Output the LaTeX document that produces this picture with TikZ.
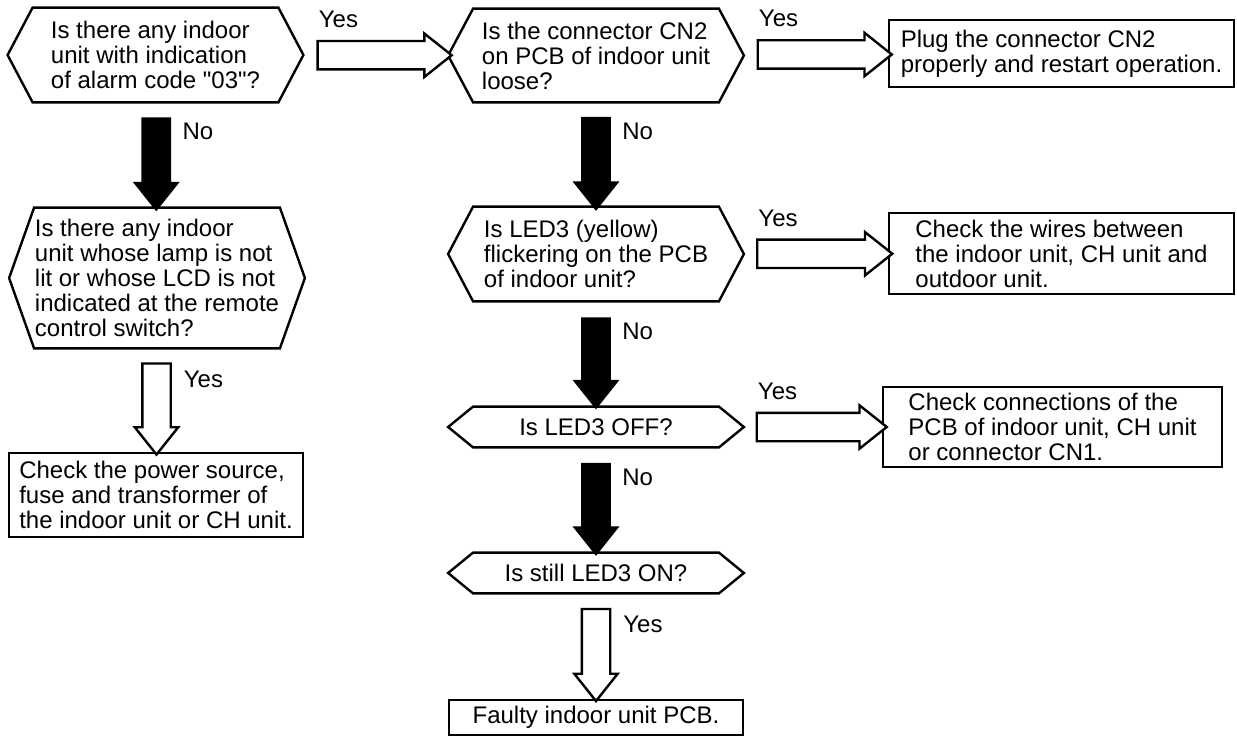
\documentclass[tikz,border=0pt]{standalone}
\usepackage{fontspec}
\setmainfont{Liberation Sans}[Ligatures=TeXOff]
\usetikzlibrary{shapes.arrows, positioning}

\begin{document}
\begin{tikzpicture}[
  x=0.5pt, y=-0.5pt,
  font=\fontsize{12}{12.5}\selectfont,
  question/.style={
    rectangle,
    minimum width=122.5pt,
    align=left,
    inner sep=0pt
  },
  answer/.style={
    draw,
    line width=1.2pt,
    align=left,
    inner sep=0pt
  },
  noarrow/.style={
    single arrow, fill=black, draw=none,
    inner sep=7.25pt,
    single arrow head extend=4.25pt,
    single arrow tip angle=77,
    shape border rotate=270
  },
  yesarrow/.style={
    single arrow, fill=white, draw=black, line width=1.2pt,
    inner sep=6.5pt,
    single arrow head extend=3.75pt,
    single arrow tip angle=77
  },
  tag/.style={inner sep=0pt}
]
\useasboundingbox (0,0) rectangle (1237,738);

% questions
\node[question, minimum height=47pt] (q1) at (155.5,55)
  {Is there any indoor\\unit with indication\\of alarm code "03"?};
\node[question, minimum height=46.5pt] (q2) at (596,55.5)
  {Is the connector CN2\\on PCB of indoor unit\\loose?};
\node[question, minimum height=47pt] (q3) at (596,254)
  {Is LED3 (yellow)\\flickering on the PCB\\of indoor unit?};
\node[question, minimum height=70pt] (q4) at (157,278)
  {Is there any indoor\\unit whose lamp is not\\lit or whose LCD is not\\indicated at the remote\\control switch?};
\node[question, minimum height=20pt] (q5) at (596,427) {Is LED3 OFF?};
\node[question, minimum height=20pt] (q6) at (596,573) {Is still LED3 ON?};

\foreach \q in {q1,q2,q3,q4,q5,q6}
  \draw[line width=1.2pt] (\q.north west) -- (\q.north east) -- ([xshift=12.5pt]\q.east)
    -- (\q.south east) -- (\q.south west) -- ([xshift=-12.5pt]\q.west) -- cycle;

% actions
\node[answer, minimum width=172.5pt, minimum height=33.5pt] (r1) at (1061.5,53.5)
  {Plug the connector CN2\\properly and restart operation.};
\node[answer, minimum width=172.5pt, minimum height=40.5pt] (r2) at (1061.5,253.5)
  {Check the wires between\\the indoor unit, CH unit and\\outdoor unit.};
\node[answer, minimum width=169.5pt, minimum height=40pt] (r3) at (1052.5,427)
  {Check connections of the\\PCB of indoor unit, CH unit\\or connector CN1.};
\node[answer, minimum width=147pt, minimum height=42pt] (b1) at (156,495)
  {Check the power source,\\fuse and transformer of\\the indoor unit or CH unit.};
\node[answer, minimum width=147pt, minimum height=17.5pt] (b2) at (596,717.5)
  {Faulty indoor unit PCB.};

% no arrows
\path (q1.south) -- node[noarrow, minimum height=47pt] (n1) {} (q4.north);
\path (q2.south) -- node[noarrow, minimum height=47pt] (n2) {} (q3.north);
\path (q3.south) -- node[noarrow, minimum height=46pt] (n3) {} (q5.north);
\path (q5.south) -- node[noarrow, minimum height=46.5pt] (n4) {} (q6.north);
\foreach \n in {n1,n2,n3,n4}
  \node[tag, anchor=north west] at ([xshift=13pt, yshift=-3pt]\n.north) {No};

% yes arrows
\path (q4.south) -- node[yesarrow, shape border rotate=270, minimum height=45.5pt] (y1) {} (b1.north);
\path (q6.south) -- node[yesarrow, shape border rotate=270, minimum height=46pt] (y2) {} (b2.north);
\foreach \y in {y1,y2}
  \node[tag, anchor=north west] at ([xshift=13.5pt, yshift=-4pt]\y.north) {Yes};

\path ([xshift=12.5pt]q1.east) -- node[yesarrow, minimum height=67pt] (y3) {} ([xshift=-12.5pt]q2.west);
\path ([xshift=12.5pt]q2.east) -- node[yesarrow, minimum height=67pt] (y4) {} (r1.west);
\path ([xshift=12.5pt]q3.east) -- node[yesarrow, minimum height=67.5pt] (y5) {} (r2.west);
\path ([xshift=12.5pt]q5.east) -- node[yesarrow, minimum height=65pt] (y6) {} (r3.west);
\foreach \y in {y3,y4,y5,y6}
  \node[tag, anchor=south west] at ([xshift=1pt, yshift=13.5pt]\y.west) {Yes};
\end{tikzpicture}
\end{document}
